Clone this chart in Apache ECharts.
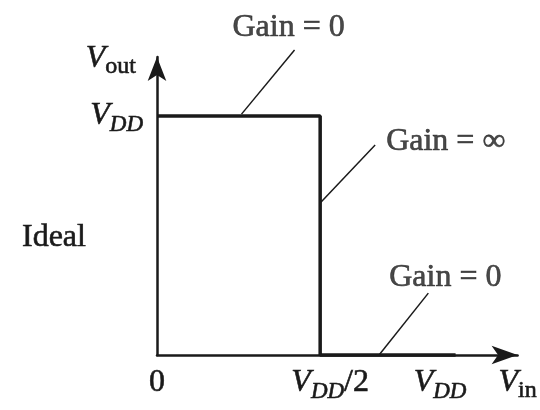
<!DOCTYPE html>
<html>
<head>
<meta charset="utf-8">
<script src="https://cdn.jsdelivr.net/npm/echarts@6/dist/echarts.min.js"></script>
<style>
  html, body { margin: 0; padding: 0; background: #fff; }
  #chart { width: 540px; height: 410px; }
</style>
</head>
<body>
<div id="chart"></div>
<script>
// ideal inverter transfer curve (x in units of VDD/2, y in units of VDD)
var curveX = [0, 1, 1, 1.83]
var curveY = [1, 1, 0, 0]

// annotation leaders: [top end, bottom end]
var leaderX = [[0.843, 0.518], [1.337, 1.0], [1.663, 1.361]]
var leaderY = [[1.276, 1.008], [0.879, 0.636], [0.259, 0]]
var gainTexts = ['Gain = 0', 'Gain = ∞', 'Gain = 0']

// tick labels
var xTickValues = [0, 1, 1.735, 2.21]
var xTickLabels = ['{n|0}', '{gap|}{v|V}{s|DD}{n|/2}', '{v|V}{s|DD}', '{v|V}{o|in}']
var yTickValues = [1, 1.24]
var yTickLabels = ['{v|V}{s|DD}', '{v|V}{o|out}{pad|}']

var font = "'Liberation Serif', 'Times New Roman', serif"
var ink = '#1a1a1a'
// scanned print looks a bit heavier than the plain font
var heavy = { textBorderColor: ink, textBorderWidth: 0.6 }

var rich = {
    v: Object.assign({ fontFamily: font, fontStyle: 'italic', fontSize: 32, lineHeight: 40, verticalAlign: 'middle', color: ink }, heavy),
    s: Object.assign({ fontFamily: font, fontStyle: 'italic', fontSize: 23, lineHeight: 22, verticalAlign: 'bottom', color: ink }, heavy),
    o: Object.assign({ fontFamily: font, fontSize: 24, lineHeight: 22, verticalAlign: 'bottom', color: ink }, heavy),
    n: Object.assign({ fontFamily: font, fontSize: 32, lineHeight: 40, verticalAlign: 'middle', color: ink }, heavy),
    gap: { width: 20 },
    pad: { width: 7 }
}

function pickLabel(values, labels, v) {
    for (var i = 0; i < values.length; i++) {
        if (Math.abs(values[i] - v) < 1e-6) return labels[i]
    }
    return ''
}

var chart = echarts.init(document.getElementById('chart'))

var series = [{
    type: 'line',
    data: curveX.map(function (x, i) { return [x, curveY[i]] }),
    symbol: 'none',
    clip: false,
    lineStyle: { color: ink, width: 3.5 },
    z: 5
}]

leaderX.forEach(function (xs, i) {
    series.push({
        type: 'line',
        data: [[xs[0], leaderY[i][0]], [xs[1], leaderY[i][1]]],
        symbol: 'none',
        clip: false,
        lineStyle: { color: ink, width: 1.5 }
    })
})

var labelPlacement = [
    { position: 'top', distance: 6, offset: [-6, 0] },
    { position: 'right', distance: 11, offset: [0, -3] },
    { position: 'top', distance: 0, offset: [17, 0] }
]

series.push({
    type: 'scatter',
    symbolSize: 0,
    clip: false,
    data: gainTexts.map(function (t, i) {
        return {
            value: [leaderX[i][0], leaderY[i][0]],
            label: Object.assign({
                show: true,
                formatter: t,
                fontFamily: font,
                fontSize: 32,
                color: ink
            }, heavy, labelPlacement[i])
        }
    })
})

var option = {
    animation: false,
    title: {
        text: 'Ideal',
        left: 17,
        top: 213,
        textStyle: Object.assign({ fontFamily: font, fontSize: 32, fontWeight: 'normal', color: ink, lineHeight: 40 }, heavy)
    },
    grid: { left: 157, right: 16, top: 57, bottom: 55 },
    xAxis: {
        type: 'value',
        min: 0,
        max: 2.21,
        splitLine: { show: false },
        axisTick: { show: false },
        axisLine: {
            onZero: false,
            symbol: ['none', 'arrow'],
            symbolSize: [14, 26],
            lineStyle: { color: ink, width: 2.5 }
        },
        axisLabel: {
            customValues: xTickValues,
            margin: 8,
            formatter: function (v) { return pickLabel(xTickValues, xTickLabels, v) },
            rich: rich
        }
    },
    yAxis: {
        type: 'value',
        min: 0,
        max: 1.247,
        splitLine: { show: false },
        axisTick: { show: false },
        axisLine: {
            onZero: false,
            symbol: ['none', 'arrow'],
            symbolSize: [14, 24],
            lineStyle: { color: ink, width: 2.5 }
        },
        axisLabel: {
            customValues: yTickValues,
            margin: 14,
            formatter: function (v) { return pickLabel(yTickValues, yTickLabels, v) },
            rich: rich
        }
    },
    series: series
}

chart.setOption(option)
</script>
</body>
</html>
